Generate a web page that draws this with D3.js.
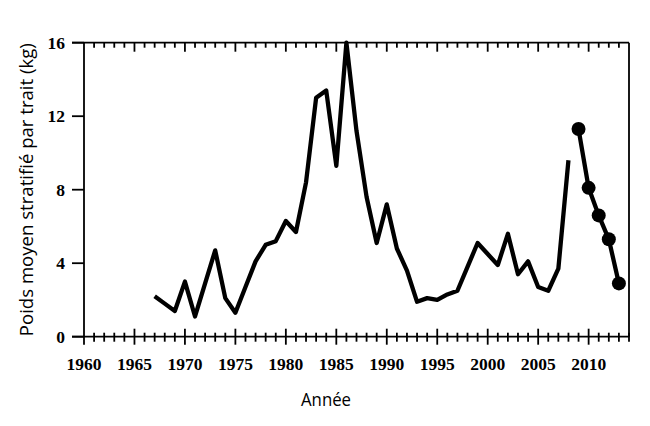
<!DOCTYPE html>
<html>
<head>
<meta charset="utf-8">
<script src="https://cdn.jsdelivr.net/npm/d3@7"></script>
<style>
  html, body { margin: 0; padding: 0; background: #fff; }
  svg { display: block; }
</style>
</head>
<body>
<svg id="chart" width="650" height="426"></svg>
<script>
// ---- data ----
const yearsA = [1967,1968,1969,1970,1971,1972,1973,1974,1975,1976,1977,1978,1979,1980,1981,1982,1983,1984,1985,1986,1987,1988,1989,1990,1991,1992,1993,1994,1995,1996,1997,1998,1999,2000,2001,2002,2003,2004,2005,2006,2007,2008];
const valuesA = [2.2,1.8,1.4,3.0,1.1,2.9,4.7,2.1,1.3,2.7,4.1,5.0,5.2,6.3,5.7,8.4,13.0,13.4,9.3,16.0,11.2,7.6,5.1,7.2,4.8,3.6,1.9,2.1,2.0,2.3,2.5,3.8,5.1,4.5,3.9,5.6,3.4,4.1,2.7,2.5,3.7,9.6];
const yearsB = [2009,2010,2011,2012,2013];
const valuesB = [11.3,8.1,6.6,5.3,2.9];
const xTickLabels = [1960,1965,1970,1975,1980,1985,1990,1995,2000,2005,2010];
const yTickLabels = [0,4,8,12,16];
const xTitle = "Année";
const yTitle = "Poids moyen stratifié par trait (kg)";

// ---- layout ----
const svg = d3.select("#chart");
const L = 84, R = 629, T = 42.7, B = 336.7;
const x = d3.scaleLinear().domain([1960, 2014]).range([L, R]);
const y = d3.scaleLinear().domain([0, 16]).range([B, T]);

const frame = svg.append("g").attr("stroke", "#000").attr("stroke-width", 1.8).attr("fill", "none");
// frame lines
frame.append("line").attr("x1", 72).attr("x2", R).attr("y1", B).attr("y2", B);
frame.append("line").attr("x1", 72).attr("x2", R).attr("y1", T).attr("y2", T);
frame.append("line").attr("x1", L).attr("x2", L).attr("y1", T).attr("y2", B + 8);
frame.append("line").attr("x1", R).attr("x2", R).attr("y1", T).attr("y2", B);

// x minor/major ticks
const allYears = d3.range(1961, 2014 + 1);
allYears.forEach(yr => {
  const major = yr % 5 === 0;
  const px = x(yr);
  // bottom: crossing ticks
  frame.append("line").attr("x1", px).attr("x2", px)
    .attr("y1", B - (major ? 8 : 4)).attr("y2", B + (major ? 8 : 5));
  // top: inward ticks
  if (yr < 2014) {
    frame.append("line").attr("x1", px).attr("x2", px)
      .attr("y1", T).attr("y2", T + (major ? 9 : 5));
  }
});
// y ticks (outward)
yTickLabels.forEach(v => {
  frame.append("line").attr("x1", 72).attr("x2", L).attr("y1", y(v)).attr("y2", y(v));
});

// tick labels
const serif = "'Liberation Serif', 'Times New Roman', serif";
svg.append("g").selectAll("text").data(xTickLabels).join("text")
  .attr("x", d => x(d)).attr("y", 369.5)
  .attr("text-anchor", "middle")
  .attr("font-family", serif).attr("font-weight", "bold").attr("font-size", 17.5)
  .text(d => d);
svg.append("g").selectAll("text").data(yTickLabels).join("text")
  .attr("x", 65).attr("y", d => y(d) + 6)
  .attr("text-anchor", "end")
  .attr("font-family", serif).attr("font-weight", "bold").attr("font-size", 17.5)
  .text(d => d);

// titles
const sans = "'Open Sans', 'Noto Sans', sans-serif";
svg.append("text")
  .attr("x", 326).attr("y", 405.5)
  .attr("text-anchor", "middle")
  .attr("font-family", sans).attr("font-size", 18)
  .attr("textLength", 50).attr("lengthAdjust", "spacingAndGlyphs")
  .text(xTitle);
svg.append("text")
  .attr("transform", "translate(33,189.7) rotate(-90)")
  .attr("text-anchor", "middle")
  .attr("font-family", sans).attr("font-size", 18.5)
  .attr("textLength", 293).attr("lengthAdjust", "spacingAndGlyphs")
  .text(yTitle);

// data lines
const line = d3.line().x(d => x(d[0])).y(d => y(d[1]));
const dataA = yearsA.map((yr, i) => [yr, valuesA[i]]);
const dataB = yearsB.map((yr, i) => [yr, valuesB[i]]);
svg.append("path").datum(dataA).attr("d", line)
  .attr("fill", "none").attr("stroke", "#000").attr("stroke-width", 4.3)
  .attr("stroke-linejoin", "round");
svg.append("path").datum(dataB).attr("d", line)
  .attr("fill", "none").attr("stroke", "#000").attr("stroke-width", 4.3)
  .attr("stroke-linejoin", "round");
svg.append("g").selectAll("circle").data(dataB).join("circle")
  .attr("cx", d => x(d[0])).attr("cy", d => y(d[1])).attr("r", 7)
  .attr("fill", "#000");
</script>
</body>
</html>
